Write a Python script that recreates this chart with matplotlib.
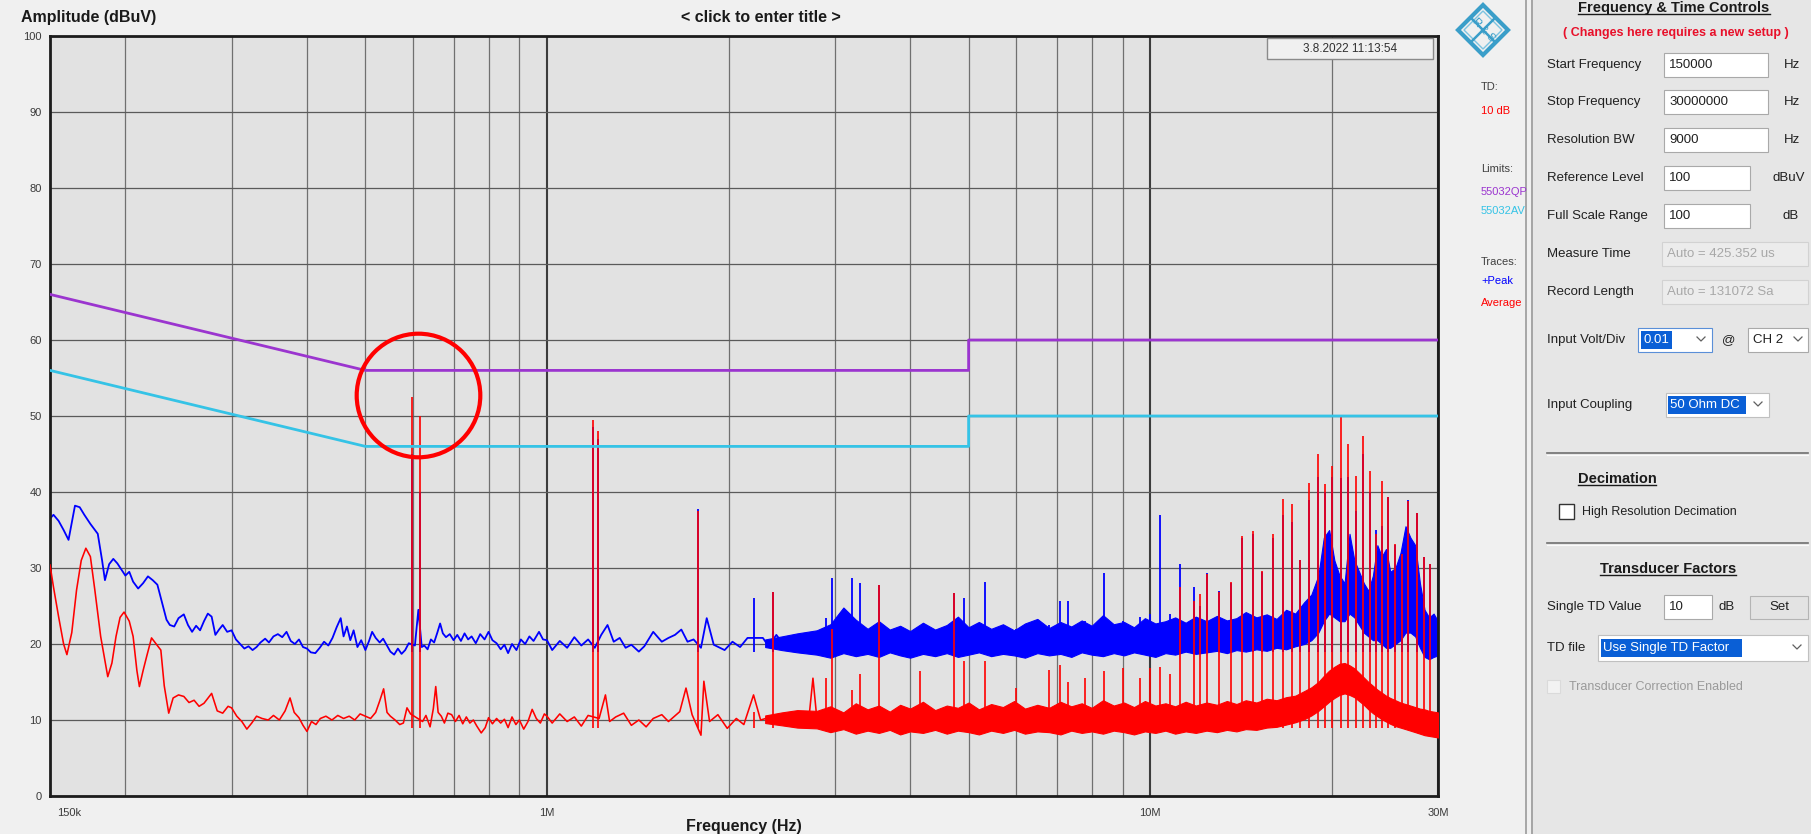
import matplotlib
matplotlib.use('Agg')
import matplotlib.pyplot as plt
from matplotlib.patches import Rectangle, Polygon
from matplotlib.ticker import FixedLocator
from matplotlib.transforms import ScaledTranslation

plt.rcParams['font.family'] = ['Liberation Sans', 'DejaVu Sans']

W, H = 1811, 834

# ---- limit lines (EN 55032 class B) ----
lim_f = [150e3, 500e3, 5e6, 5e6, 30e6]
lim_qp = [66, 56, 56, 60, 60]
lim_av = [56, 46, 46, 50, 50]

# ---- +Peak trace, low frequency part (kHz, dBuV) ----
peak_f = [150, 152, 155, 158, 161, 163, 165, 168, 171, 175, 180, 183, 185, 188, 191, 194, 197,
          200, 203, 206, 210, 214, 218, 222, 226, 230, 234, 237, 241, 245, 250, 254, 258, 262,
          266, 270, 274, 278, 282, 286, 290, 295, 300, 305, 310, 315, 320, 325, 330, 335, 341,
          346, 352, 358, 364, 370, 376, 382, 388, 394, 400, 406, 413, 420, 427, 434, 441, 448,
          455, 460, 466, 472, 478, 485, 492, 500, 507, 513, 520, 528, 535, 542, 550, 558, 566,
          574, 582, 590, 604, 612, 620, 626, 634, 642, 650, 658, 665, 672, 680, 690, 700, 710,
          720, 730, 740, 750, 762, 775, 788, 800, 812, 825, 838, 850, 862, 875, 890, 905, 920,
          935, 950, 970, 985, 1000, 1020, 1050, 1080, 1110, 1140, 1170, 1200, 1230, 1260, 1290,
          1320, 1350, 1380, 1420, 1450, 1500, 1550, 1590, 1630, 1670, 1710, 1750, 1800, 1840,
          1890, 1970, 2030, 2090, 2150, 2280, 2330, 2400, 2470, 2550, 2620, 2700, 2800]
peak_db = [36.5, 37.0, 36.2, 35.0, 33.7, 36.0, 38.2, 38.0, 37.0, 35.8, 34.5, 31.0, 28.4, 30.5,
           31.2, 30.6, 29.8, 29.0, 29.5, 28.2, 27.3, 28.0, 28.9, 28.4, 27.8, 25.5, 23.2, 22.5,
           22.3, 23.4, 23.9, 22.5, 21.6, 22.4, 21.8, 23.0, 24.0, 23.6, 21.2, 21.9, 22.5, 21.6,
           21.8, 20.6, 20.0, 19.4, 19.7, 19.2, 19.6, 20.2, 20.7, 20.2, 21.0, 21.3, 20.9, 21.6,
           20.4, 20.0, 20.6, 19.6, 19.4, 18.9, 18.8, 19.5, 20.3, 19.8, 20.8, 22.2, 23.4, 21.0,
           22.3, 20.5, 21.8, 19.6, 20.5, 19.2, 20.4, 21.6, 20.8, 20.2, 20.7, 19.9, 19.0, 18.6,
           19.4, 18.7, 19.2, 20.1, 19.8, 24.5, 19.6, 19.8, 19.3, 20.6, 20.2, 21.5, 22.7, 21.4,
           20.9, 21.3, 20.5, 21.2, 20.4, 21.4, 20.6, 21.0, 20.1, 21.3, 20.6, 21.6, 20.5, 20.1,
           19.3, 19.9, 18.8, 20.0, 19.2, 20.6, 20.0, 21.0, 20.4, 21.6, 20.6, 20.5, 19.2, 20.4,
           19.5, 20.9, 19.8, 20.6, 19.5, 21.2, 22.5, 20.3, 20.8, 19.5, 19.9, 19.0, 19.7, 21.6,
           20.3, 20.8, 21.2, 21.9, 20.3, 20.6, 19.5, 23.4, 19.9, 19.2, 20.3, 19.6, 20.8, 20.8,
           19.7, 21.2, 19.9, 20.8, 19.5, 20.4, 20.4]

# ---- Average trace, low frequency part (kHz, dBuV) ----
avg_f = [150, 152, 155, 158, 160, 163, 166, 169, 172, 175, 178, 182, 187, 190, 193, 196, 199,
         203, 206, 209, 211, 214, 217, 221, 225, 229, 232, 236, 240, 245, 250, 255, 260, 265,
         270, 278, 284, 290, 296, 300, 306, 312, 318, 324, 330, 337, 345, 352, 360, 368, 375,
         381, 388, 394, 400, 407, 414, 421, 430, 440, 450, 460, 470, 480, 490, 500, 510, 520,
         528, 536, 543, 550, 560, 570, 578, 586, 594, 622, 630, 640, 648, 654, 660, 668, 676,
         685, 695, 705, 715, 725, 735, 745, 755, 765, 778, 790, 800, 812, 825, 838, 850, 862,
         875, 888, 900, 915, 930, 945, 960, 975, 990, 1000, 1020, 1050, 1080, 1110, 1140, 1170,
         1220, 1250, 1270, 1300, 1340, 1380, 1420, 1460, 1500, 1550, 1590, 1660, 1700, 1740,
         1800, 1820, 1860, 1920, 1990, 2060, 2120, 2200, 2260, 2420, 2500, 2580, 2650, 2720,
         2760, 2800]
avg_db = [30.4, 27.5, 23.6, 20.0, 18.6, 21.5, 27.1, 31.0, 32.6, 31.5, 27.1, 21.0, 15.7, 17.5,
          21.0, 23.5, 24.2, 23.0, 21.0, 16.5, 14.4, 16.5, 18.4, 20.8, 20.0, 19.2, 14.5, 10.9,
          12.9, 13.3, 13.1, 12.3, 12.6, 11.8, 12.2, 13.5, 11.2, 10.9, 11.8, 11.6, 10.5, 9.8,
          8.8, 9.6, 10.5, 10.2, 10.0, 10.6, 10.0, 11.2, 12.9, 11.0, 10.3, 9.3, 8.5, 9.8, 9.4,
          10.2, 10.5, 10.0, 10.6, 10.2, 10.5, 10.0, 10.8, 10.5, 10.2, 11.0, 12.5, 14.1, 11.0,
          10.5, 10.0, 9.4, 9.6, 11.6, 10.8, 9.8, 10.6, 9.1, 11.5, 14.4, 11.0, 10.5, 9.6, 10.9,
          10.7, 9.8, 10.6, 9.5, 10.4, 9.6, 10.0, 9.2, 8.3, 9.0, 10.3, 9.5, 10.2, 9.6, 10.1, 9.0,
          10.4, 9.4, 10.0, 8.8, 9.8, 11.4, 10.2, 9.6, 10.8, 10.5, 9.6, 10.8, 9.8, 10.4, 9.2,
          10.6, 10.2, 13.3, 9.8, 10.4, 10.9, 9.3, 10.0, 9.1, 10.2, 10.7, 9.8, 11.1, 14.2, 10.7,
          8.0, 15.1, 9.8, 10.7, 8.9, 10.2, 9.4, 13.3, 10.0, 10.7, 9.8, 10.9, 9.6, 10.5, 15.5, 10.4]

# ---- dense noise band from 2.3 MHz up (MHz, min / max dBuV) ----
band_f = [2.3, 2.45, 2.6,
          2.8, 2.95, 3.1, 3.25, 3.4, 3.55, 3.7, 3.85, 4.0, 4.2, 4.4, 4.6, 4.8, 5.0, 5.2, 5.45,
          5.7, 5.95, 6.2, 6.5, 6.8, 7.1, 7.4, 7.7, 8.0, 8.35, 8.7, 9.05, 9.4, 9.8, 10.2, 10.6,
          11.0, 11.45, 11.9, 12.4, 12.9, 13.4, 13.9, 14.4, 15.0, 15.6, 16.2, 16.8, 17.4, 18.0,
          18.5, 19.0, 19.4, 19.8, 20.2, 20.6, 21.0, 21.4, 21.8, 22.2, 22.6, 23.0, 23.4, 23.8,
          24.2, 24.6, 25.0, 25.5, 26.0, 26.5, 27.0, 27.5, 28.0, 28.5, 29.0, 29.5, 30.0]
peak_hi = [20.6, 21.0, 21.4,
           21.8, 22.6, 24.8, 23.2, 22.0, 23.0, 21.9, 22.4, 21.7, 22.8, 21.9, 22.5, 23.6, 22.2,
           22.9, 22.0, 22.6, 21.8, 22.7, 23.3, 22.1, 22.9, 22.3, 23.1, 22.4, 23.8, 22.6, 22.9,
           22.2, 23.4, 22.7, 23.0, 23.5, 22.8, 23.6, 23.0, 23.7, 23.1, 23.4, 24.2, 23.5, 23.9,
           23.3, 24.5, 24.0, 25.5, 26.5, 29.0, 34.0, 35.0, 31.0, 29.0, 28.0, 34.5, 31.0, 29.5,
           28.0, 27.0, 29.0, 33.0, 31.5, 32.5, 29.5, 30.0, 32.0, 35.5, 34.0, 33.0, 28.0, 24.5,
           23.5, 24.0, 23.0]
peak_lo = [19.6, 19.2, 18.9,
           18.6, 18.2, 18.8, 18.4, 18.7, 18.3, 18.9, 18.5, 18.2, 18.7, 18.4, 18.8, 18.3, 18.6,
           18.9, 18.4, 18.7, 18.5, 18.2, 18.8, 18.5, 18.7, 18.3, 18.9, 18.6, 18.4, 18.8, 18.5,
           18.9, 18.6, 18.3, 18.8, 18.6, 19.0, 18.7, 18.9, 19.1, 18.8, 19.2, 19.0, 19.3, 19.1,
           19.5, 19.3, 19.7, 20.0, 20.5, 21.5, 23.0, 24.0, 23.5, 23.0, 23.0, 24.0, 23.5, 22.5,
           21.5, 21.0, 20.5, 20.5, 20.0, 19.5, 19.5, 20.0, 20.5, 21.5, 21.5, 21.0, 19.5, 18.3,
           18.0, 18.3, 18.5]
avg_hi = [10.6, 11.0, 11.3,
          11.2, 11.8, 11.0, 12.2, 11.4, 11.9, 11.1, 12.0, 11.5, 12.4, 11.3, 11.9, 11.6, 12.3,
          11.4, 12.1, 11.7, 12.5, 11.5, 12.0, 11.6, 12.4, 11.8, 12.2, 11.6, 12.6, 11.9, 12.3,
          11.7, 12.5, 11.9, 12.2, 11.8, 12.4, 11.9, 12.3, 12.0, 12.5, 12.1, 12.6, 12.3, 12.8,
          12.6, 13.0, 13.2, 13.8, 14.3, 15.0, 15.8, 16.5, 17.0, 17.4, 17.5, 17.2, 16.8, 16.2,
          15.6, 15.0, 14.5, 14.0, 13.6, 13.2, 12.9, 12.6, 12.3, 12.1, 11.9, 11.7, 11.5, 11.4,
          11.2, 11.1, 11.0]
avg_lo = [9.6, 9.3, 9.0,
          8.9, 8.4, 8.8, 8.2, 8.6, 8.3, 8.7, 8.1, 8.5, 8.3, 8.7, 8.2, 8.6, 8.4, 8.1, 8.6, 8.3,
          8.7, 8.2, 8.5, 8.4, 8.1, 8.6, 8.3, 8.5, 8.2, 8.6, 8.4, 8.1, 8.5, 8.3, 8.6, 8.2, 8.5,
          8.3, 8.6, 8.4, 8.7, 8.5, 8.8, 8.7, 9.0, 9.1, 9.4, 9.7, 10.1, 10.6, 11.2, 11.8, 12.4,
          12.9, 13.3, 13.5, 13.3, 13.0, 12.5, 12.0, 11.4, 10.9, 10.5, 10.1, 9.8, 9.5, 9.2, 9.0,
          8.8, 8.6, 8.4, 8.2, 8.0, 7.9, 7.8, 7.7]

# ---- harmonic spikes (MHz, top of Average, top of +Peak) ----
spike_f = [0.598, 0.615, 1.19, 1.215, 1.78, 2.20, 2.37, 2.90, 2.97, 3.20, 3.30, 3.55, 4.15,
           4.73, 4.92, 5.32, 6.00, 6.80, 7.08, 7.30, 7.80, 8.37, 9.00, 9.60, 10.0, 10.4, 10.8,
           11.2, 11.8, 12.1, 12.4, 13.0, 13.6, 14.2, 14.8, 15.3, 16.0, 16.6, 17.2, 17.7, 18.3,
           19.0, 19.5, 20.0, 20.7, 21.3, 21.9, 22.5, 23.1, 23.7, 24.2, 24.8, 25.5, 26.1, 26.8,
           27.7, 28.4, 29.1]
spike_avg = [52.5, 50.0, 49.5, 48.0, 37.5, 11.0, 26.9, 15.5, 22.0, 14.0, 16.0, 27.8, 16.4,
             26.7, 17.7, 17.7, 14.2, 16.6, 17.3, 15.0, 15.5, 16.4, 16.8, 15.5, 16.8, 17.0, 16.0,
             27.5, 25.7, 26.6, 29.2, 26.8, 28.1, 34.2, 34.9, 29.6, 34.5, 39.1, 38.4, 31.0, 41.2,
             45.0, 41.0, 43.4, 50.0, 46.3, 42.1, 47.4, 42.8, 34.5, 41.5, 39.3, 33.2, 31.8, 38.8,
             37.3, 31.4, 30.5]
spike_peak = [45.0, 40.0, 48.5, 47.0, 37.7, 26.0, 26.9, 23.4, 28.7, 28.7, 28.0, 27.8, 22.0,
              26.7, 26.0, 28.2, 22.0, 22.5, 25.6, 25.6, 23.0, 29.3, 23.0, 23.5, 24.0, 37.0, 24.0,
              30.5, 27.5, 25.0, 29.4, 27.0, 28.0, 34.0, 34.5, 29.5, 34.0, 37.0, 36.0, 31.0, 39.0,
              42.0, 40.0, 42.0, 41.9, 42.0, 37.5, 45.0, 40.0, 35.0, 35.5, 39.3, 33.0, 31.0, 39.0,
              37.3, 31.4, 30.5]

x_ticks = [150e3, 1e6, 10e6, 30e6]
x_ticklabels = ['150k', '1M', '10M', '30M']
x_minor = [2e5, 3e5, 4e5, 5e5, 6e5, 7e5, 8e5, 9e5,
           2e6, 3e6, 4e6, 5e6, 6e6, 7e6, 8e6, 9e6, 2e7]
y_ticks = list(range(0, 101, 10))

BLUE = '#0000ff'
RED = '#ff0000'
QP = '#9b35cf'
AV = '#35c3e6'

fig = plt.figure(figsize=(W / 100, H / 100), dpi=100)
fig.patch.set_facecolor('#f0f0f0')

ax = fig.add_axes([50 / W, 1 - 796 / H, 1388 / W, 760 / H])
ax.set_facecolor('#e2e2e2')
ax.set_xscale('log')
ax.set_xlim(150e3, 30e6)
ax.set_ylim(0, 100)
ax.set_xticks(x_ticks)
ax.set_xticklabels(x_ticklabels)
ax.xaxis.set_minor_locator(FixedLocator(x_minor))
ax.set_yticks(y_ticks)
ax.tick_params(which='both', length=0, labelsize=8, colors='#3a3a3a')
ax.tick_params(axis='x', pad=9)
ax.tick_params(axis='y', pad=6)
first = ax.get_xticklabels()[0]
first.set_horizontalalignment('left')
first.set_transform(first.get_transform() + ScaledTranslation(0.07, 0, fig.dpi_scale_trans))
ax.grid(which='minor', axis='x', color='#707070', lw=0.9)
ax.grid(which='major', axis='x', color='#3c3c3c', lw=1.5)
ax.grid(which='major', axis='y', color='#5a5a5a', lw=0.9)
ax.set_axisbelow(True)
for s in ax.spines.values():
    s.set_color('#1c1c1c')
    s.set_linewidth(2.0)

kHz = 1e3
MHz = 1e6
# +Peak
ax.fill_between([f * MHz for f in band_f], peak_lo, peak_hi, color=BLUE, lw=0.8, zorder=2)
ax.plot([f * kHz for f in peak_f], peak_db, color=BLUE, lw=1.3, zorder=2)
ax.vlines([f * MHz for f in spike_f], 19, spike_peak, color=BLUE, lw=1.3, zorder=2)
# Average
ax.fill_between([f * MHz for f in band_f], avg_lo, avg_hi, color=RED, lw=0.8, zorder=3)
ax.plot([f * kHz for f in avg_f], avg_db, color=RED, lw=1.15, zorder=3)
ax.vlines([f * MHz for f in spike_f], 9, spike_avg, color=RED, lw=1.2, zorder=3)
# limits
ax.plot(lim_f, lim_qp, color=QP, lw=2.0, zorder=4)
ax.plot(lim_f, lim_av, color=AV, lw=2.0, zorder=4)
# highlight circle round the 600 kHz line
ax.plot([611e3], [52.8], 'o', ms=89, mfc='none', mec=RED, mew=3.0, zorder=6, clip_on=False)

# ---------------- overlay in pixel coordinates ----------------
ov = fig.add_axes([0, 0, 1, 1], zorder=5)
ov.set_xlim(0, W)
ov.set_ylim(H, 0)
ov.axis('off')


def txt(x, y, s, size=9.5, color='#202020', ha='left', **kw):
    return ov.text(x, y, s, fontsize=size, color=color, ha=ha, va='center', **kw)


def underline(t):
    fig.canvas.draw()
    bb = t.get_window_extent(renderer=fig.canvas.get_renderer())
    (x0, y0), (x1, y1) = ov.transData.inverted().transform([[bb.x0, bb.y0], [bb.x1, bb.y1]])
    yb = max(y0, y1) - 1
    ov.plot([x0, x1], [yb, yb], color=t.get_color(), lw=1.0)


def field(x0, x1, y, text='', fc='white', ec='#a9a9a9', tc='#202020', h=24):
    ov.add_patch(Rectangle((x0, y - h / 2), x1 - x0, h, fc=fc, ec=ec, lw=0.8))
    if text:
        txt(x0 + 5, y, text, color=tc)


def selected(x0, x1, y, text, h=18):
    ov.add_patch(Rectangle((x0, y - h / 2), x1 - x0, h, fc='#0a5fd6', ec='none'))
    txt(x0 + 2, y, text, color='white')


def chevron(x, y):
    ov.plot([x - 4, x, x + 4], [y - 2, y + 2, y - 2], color='#606060', lw=0.9)


# chart texts
txt(21, 17, 'Amplitude (dBuV)', size=11.5, color='#1a1a1a', weight='bold')
txt(761, 17, '< click to enter title >', size=11.5, color='#1a1a1a', weight='bold', ha='center')
txt(744, 826, 'Frequency (Hz)', size=11.5, color='#1a1a1a', weight='bold', ha='center')

ov.add_patch(Rectangle((1267, 38), 166, 21, fc='#f0f0f0', ec='#8a8a8a', lw=1.0, zorder=3))
txt(1350, 48.5, '3.8.2022 11:13:54', size=8.5, color='#303030', ha='center', zorder=4)

# side legend
txt(1481, 87, 'TD:', size=8, color='#404040')
txt(1481, 111, '10 dB', size=8, color=RED)
txt(1481, 169, 'Limits:', size=8, color='#404040')
txt(1481, 192, '55032QP', size=8, color=QP)
txt(1481, 211, '55032AV', size=8, color=AV)
txt(1481, 262, 'Traces:', size=8, color='#404040')
txt(1481, 281, '+Peak', size=8, color=BLUE)
txt(1481, 303, 'Average', size=8, color=RED)

# R&S logo
cx, cy, r = 1483, 30, 25
ov.add_patch(Polygon([[cx, cy - r], [cx + r, cy], [cx, cy + r], [cx - r, cy]], closed=True,
                     fc='none', ec='#3a9ec9', lw=3.0))
ov.add_patch(Polygon([[cx, cy - r + 6], [cx + r - 6, cy], [cx, cy + r - 6], [cx - r + 6, cy]],
                     closed=True, fc='none', ec='#7cc3e0', lw=1.0))
ov.plot([cx - r / 2, cx + r / 2], [cy - r / 2, cy + r / 2], color='#3a9ec9', lw=1.8)
ov.plot([cx + r / 2, cx - r / 2], [cy - r / 2, cy + r / 2], color='#3a9ec9', lw=1.8)
txt(cx - 7, cy - 7, 'R', size=8, color='#3a9ec9', ha='center', rotation=-45)
txt(cx, cy, '&', size=7, color='#3a9ec9', ha='center', rotation=-45)
txt(cx + 7, cy + 7, 'S', size=8, color='#3a9ec9', ha='center', rotation=-45)

# control panel
ov.add_patch(Rectangle((1531, 0), W - 1531, H, fc='#e6e6e6', ec='none'))
ov.plot([1526, 1526], [0, H], color='#9a9a9a', lw=1.2)
ov.plot([1532, 1532], [0, H], color='#9a9a9a', lw=1.2)

t = txt(1674, 8, 'Frequency & Time Controls', size=10.5, color='#1a1a1a', weight='bold', ha='center')
underline(t)
txt(1676, 33, '( Changes here requires a new setup )', size=9, color='#e8102a', weight='bold', ha='center')

x_lab = 1547
txt(x_lab, 65, 'Start Frequency')
field(1664, 1768, 65, '150000')
txt(1792, 65, 'Hz', ha='center')
txt(x_lab, 102, 'Stop Frequency')
field(1664, 1768, 102, '30000000')
txt(1792, 102, 'Hz', ha='center')
txt(x_lab, 140, 'Resolution BW')
field(1664, 1768, 140, '9000')
txt(1792, 140, 'Hz', ha='center')
txt(x_lab, 178, 'Reference Level')
field(1664, 1750, 178, '100')
txt(1789, 178, 'dBuV', ha='center')
txt(x_lab, 216, 'Full Scale Range')
field(1664, 1750, 216, '100')
txt(1791, 216, 'dB', ha='center')
txt(x_lab, 254, 'Measure Time')
field(1662, 1808, 254, 'Auto = 425.352 us', fc='#ececec', ec='#d2d2d2', tc='#a8a8a8')
txt(x_lab, 292, 'Record Length')
field(1662, 1808, 292, 'Auto = 131072 Sa', fc='#ececec', ec='#d2d2d2', tc='#a8a8a8')

txt(x_lab, 340, 'Input Volt/Div')
field(1638, 1712, 340, ec='#5a8fd8')
selected(1641, 1672, 340, '0.01')
chevron(1701, 339)
txt(1729, 340, '@', ha='center')
field(1748, 1808, 340, 'CH 2')
chevron(1798, 339)

txt(x_lab, 405, 'Input Coupling')
field(1666, 1769, 405, ec='#c0c0c0')
selected(1668, 1746, 405, '50 Ohm DC')
chevron(1758, 404)

ov.plot([1547, 1808], [453, 453], color='#707070', lw=1.2)
ov.plot([1547, 1808], [455, 455], color='#fafafa', lw=0.8)
t = txt(1617, 479, 'Decimation', size=10.5, color='#1a1a1a', weight='bold', ha='center')
underline(t)
ov.add_patch(Rectangle((1559, 504), 15, 15, fc='white', ec='#333333', lw=1.0))
txt(1582, 512, 'High Resolution Decimation', size=9)

ov.plot([1547, 1808], [543, 543], color='#707070', lw=1.2)
ov.plot([1547, 1808], [545, 545], color='#fafafa', lw=0.8)
t = txt(1668, 569, 'Transducer Factors', size=10.5, color='#1a1a1a', weight='bold', ha='center')
underline(t)

txt(x_lab, 607, 'Single TD Value')
field(1664, 1712, 607, '10')
txt(1727, 607, 'dB', ha='center')
ov.add_patch(Rectangle((1750, 596), 58, 23, fc='#e3e3e3', ec='#b4b4b4', lw=0.8))
txt(1779, 607, 'Set', ha='center')

txt(x_lab, 648, 'TD file')
field(1598, 1808, 648, ec='#c0c0c0', h=26)
selected(1601, 1742, 648, 'Use Single TD Factor')
chevron(1797, 647)

ov.add_patch(Rectangle((1547, 680), 13, 13, fc='#f2f2f2', ec='#dadada', lw=0.8))
txt(1569, 687, 'Transducer Correction Enabled', size=9, color='#9a9a9a')

fig.savefig('out.png', dpi=100, facecolor=fig.get_facecolor())
